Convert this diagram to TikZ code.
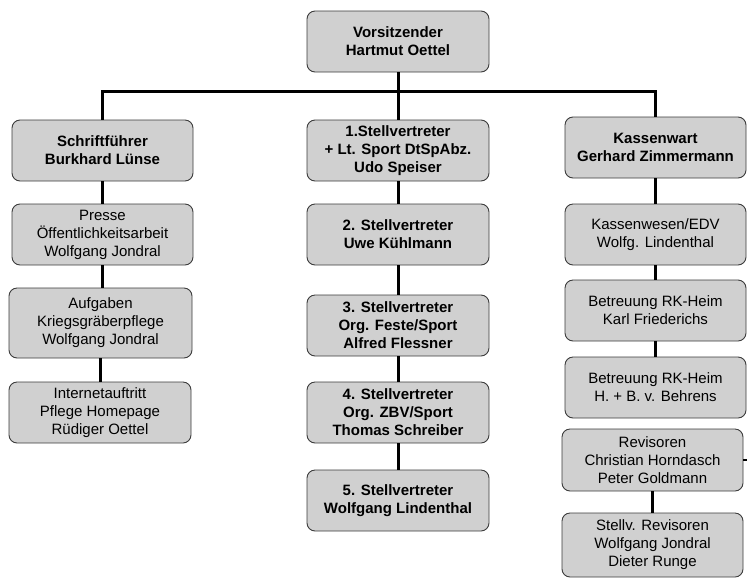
\documentclass[tikz,border=0pt]{standalone}
\usepackage{fontspec}
\setmainfont{Liberation Sans}
\definecolor{boxfill}{RGB}{208,208,208}
\definecolor{boxline}{RGB}{60,60,60}
\begin{document}
\begin{tikzpicture}[x=1pt,y=-1pt,
  orgbox/.style={draw=boxline, line width=0.9pt, fill=boxfill, rounded corners=8pt,
    align=center, inner sep=0pt, minimum width=181pt, minimum height=61pt,
    font=\fontsize{15}{18}\selectfont},
  boldbox/.style={orgbox, font=\fontsize{15}{18}\selectfont\bfseries},
  conn/.style={draw=black, line width=3pt}]
\useasboundingbox (0,0) rectangle (747,582);
% top
\node[boldbox, minimum width=182pt] (top) at (398,41.5) {Vorsitzender\\Hartmut Oettel};
% left column
\node[boldbox] (L1) at (102.5,150.5) {Schriftführer\\Burkhard Lünse};
\node[orgbox] (L2) at (102.5,234.5) {Presse\\Öffentlichkeitsarbeit\\Wolfgang Jondral};
\node[orgbox, minimum width=183pt, minimum height=70pt] (L3) at (100.5,323) {Aufgaben\\Kriegsgräberpflege\\Wolfgang Jondral};
\node[orgbox, minimum width=182pt] (L4) at (100,412.5) {Internetauftritt\\Pflege Homepage\\Rüdiger Oettel};
% middle column
\node[boldbox, minimum width=182pt] (M1) at (398,150.5) {1.Stellvertreter\\+ Lt. Sport DtSpAbz.\\Udo Speiser};
\node[boldbox, minimum width=182pt] (M2) at (398,234.5) {2. Stellvertreter\\Uwe Kühlmann};
\node[boldbox, minimum width=182pt] (M3) at (398,325.5) {3. Stellvertreter\\Org. Feste/Sport\\Alfred Flessner};
\node[boldbox, minimum width=182pt] (M4) at (398,412.5) {4. Stellvertreter\\Org. ZBV/Sport\\Thomas Schreiber};
\node[boldbox, minimum width=182pt] (M5) at (398,500.5) {5. Stellvertreter\\Wolfgang Lindenthal};
% right column
\node[boldbox] (R1) at (655.5,147.5) {Kassenwart\\Gerhard Zimmermann};
\node[orgbox] (R2) at (655.5,234.5) {Kassenwesen/EDV\\Wolfg. Lindenthal};
\node[orgbox] (R3) at (655.5,310.5) {Betreuung RK-Heim\\Karl Friederichs};
\node[orgbox] (R4) at (655.5,387.5) {Betreuung RK-Heim\\H. + B. v. Behrens};
\node[orgbox, minimum height=62pt] (R5) at (652.5,460) {Revisoren\\Christian Horndasch\\Peter Goldmann};
\node[orgbox, minimum height=64pt] (R6) at (652.5,545) {Stellv. Revisoren\\Wolfgang Jondral\\Dieter Runge};
% connectors
\coordinate (bus) at (398,91);
\coordinate (stub) at (747,460);
\draw[conn] (top.south) -- (bus);
\draw[conn] (L1.north) |- (bus) -| (R1.north);
\draw[conn] (bus) -- (M1.north);
\draw[conn] (L1.south) -- (L1.south |- L2.north);
\draw[conn] (L2.south) -- (L2.south |- L3.north);
\draw[conn] (L3.south) -- (L3.south |- L4.north);
\draw[conn] (M1.south) -- (M2.north);
\draw[conn] (M2.south) -- (M3.north);
\draw[conn] (M3.south) -- (M4.north);
\draw[conn] (M4.south) -- (M5.north);
\draw[conn] (R1.south) -- (R2.north);
\draw[conn] (R2.south) -- (R3.north);
\draw[conn] (R3.south) -- (R4.north);
\draw[conn] (R5.south) -- (R6.north);
\draw[line width=1.5pt] (R5.east) -- (stub);
\end{tikzpicture}
\end{document}
